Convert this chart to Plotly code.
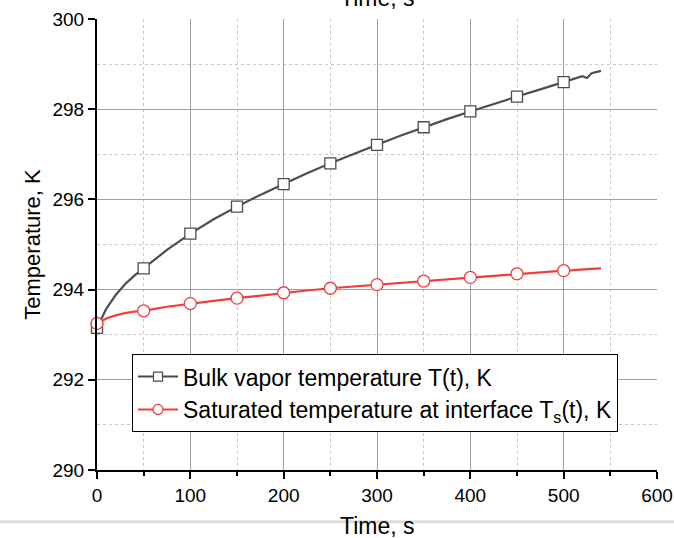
import plotly.graph_objects as go

# Marker data
t_mark = [0, 50, 100, 150, 200, 250, 300, 350, 400, 450, 500]
bulk_mark = [293.15, 294.47, 295.24, 295.84, 296.34, 296.80, 297.21, 297.60, 297.95, 298.28, 298.60]
sat_mark = [293.25, 293.53, 293.69, 293.81, 293.93, 294.03, 294.11, 294.19, 294.27, 294.35, 294.42]

# Line data (denser)
t_line = [0, 5, 10, 20, 30, 40, 50, 75, 100, 125, 150, 175, 200, 225, 250, 275, 300,
          325, 350, 375, 400, 425, 450, 475, 500, 510, 520, 525, 530, 540]
bulk_line = [293.15, 293.38, 293.58, 293.88, 294.12, 294.31, 294.47, 294.88, 295.24, 295.56,
             295.84, 296.10, 296.34, 296.58, 296.80, 297.01, 297.21, 297.41, 297.60, 297.78,
             297.95, 298.12, 298.28, 298.44, 298.60, 298.66, 298.73, 298.69, 298.80, 298.85]
sat_line = [293.25, 293.31, 293.36, 293.43, 293.48, 293.51, 293.53, 293.62, 293.69, 293.75,
            293.81, 293.87, 293.93, 293.98, 294.03, 294.07, 294.11, 294.15, 294.19, 294.23,
            294.27, 294.31, 294.35, 294.39, 294.42, 294.43, 294.45, 294.45, 294.46, 294.47]

bulk_name = "Bulk vapor temperature T(t), K"
sat_name = "Saturated temperature at interface T<sub>s</sub>(t), K"
x_title = "Time, s"
y_title = "Temperature, K"

gray = "#4d4d4d"
red = "#f23c3c"

fig = go.Figure()
# curves
fig.add_trace(go.Scatter(x=t_line, y=bulk_line, mode="lines", line=dict(color=gray, width=2.2),
                         showlegend=False, hoverinfo="skip", cliponaxis=False))
fig.add_trace(go.Scatter(x=t_line, y=sat_line, mode="lines", line=dict(color=red, width=2.2),
                         showlegend=False, hoverinfo="skip", cliponaxis=False))
# markers
fig.add_trace(go.Scatter(x=t_mark, y=bulk_mark, mode="markers", showlegend=False,
                         marker=dict(symbol="square", size=11, color="white",
                                     line=dict(color=gray, width=1.3)),
                         cliponaxis=False))
fig.add_trace(go.Scatter(x=t_mark, y=sat_mark, mode="markers", showlegend=False,
                         marker=dict(symbol="circle", size=12, color="white",
                                     line=dict(color=red, width=1.3)),
                         cliponaxis=False))
# legend entries
fig.add_trace(go.Scatter(x=[None], y=[None], mode="lines+markers", name=bulk_name,
                         line=dict(color=gray, width=2),
                         marker=dict(symbol="square", size=9, color="white",
                                     line=dict(color=gray, width=1.2))))
fig.add_trace(go.Scatter(x=[None], y=[None], mode="lines+markers", name=sat_name,
                         line=dict(color=red, width=2),
                         marker=dict(symbol="circle", size=10, color="white",
                                     line=dict(color=red, width=1.2))))

font = "Liberation Sans, Arial, sans-serif"

fig.update_layout(
    width=674, height=538,
    margin=dict(l=97, r=17, t=19, b=68, autoexpand=False),
    paper_bgcolor="white", plot_bgcolor="white",
    font=dict(family=font, size=19, color="black"),
    showlegend=True,
    legend=dict(x=0.0625, y=0.257, xanchor="left", yanchor="top",
                bordercolor="black", borderwidth=1, bgcolor="white",
                font=dict(size=23, family=font), tracegroupgap=0,
                itemwidth=40),
    xaxis=dict(range=[0, 600], dtick=100, tick0=0, showline=True, linecolor="black",
               linewidth=2, ticks="outside", ticklen=7, tickwidth=2, tickcolor="black",
               showgrid=True, gridcolor="#a0a0a0", gridwidth=1, zeroline=False,
               tickfont=dict(size=19), automargin=False,
               minor=dict(dtick=50, showgrid=True, gridcolor="#c8c8c8", griddash="dot",
                          ticks="outside", ticklen=4, tickwidth=1.5, tickcolor="black")),
    yaxis=dict(range=[290, 300], dtick=2, tick0=290, showline=True, linecolor="black",
               linewidth=2, ticks="outside", ticklen=7, tickwidth=2, tickcolor="black",
               showgrid=True, gridcolor="#a0a0a0", gridwidth=1, zeroline=False,
               tickfont=dict(size=19), automargin=False,
               title=dict(text=y_title, font=dict(size=22), standoff=6),
               minor=dict(dtick=1, showgrid=True, gridcolor="#c8c8c8", griddash="dot")),
)

# light separator line
fig.add_shape(type="line", xref="paper", yref="paper", x0=-0.2, x1=1.1, y0=-0.115, y1=-0.115,
              line=dict(color="#dcdcdc", width=3))
# bottom axis title
fig.add_annotation(x=0.5, xref="paper", y=-0.1235, yref="paper", text=x_title,
                   showarrow=False, font=dict(size=23, family=font), yanchor="middle")
# clipped top title (partially visible, as in the reference)
fig.add_annotation(x=0.5, xref="paper", y=1.0466, yref="paper", text=x_title,
                   showarrow=False, font=dict(size=23, family=font), yanchor="middle")

fig.write_html("out.html")
